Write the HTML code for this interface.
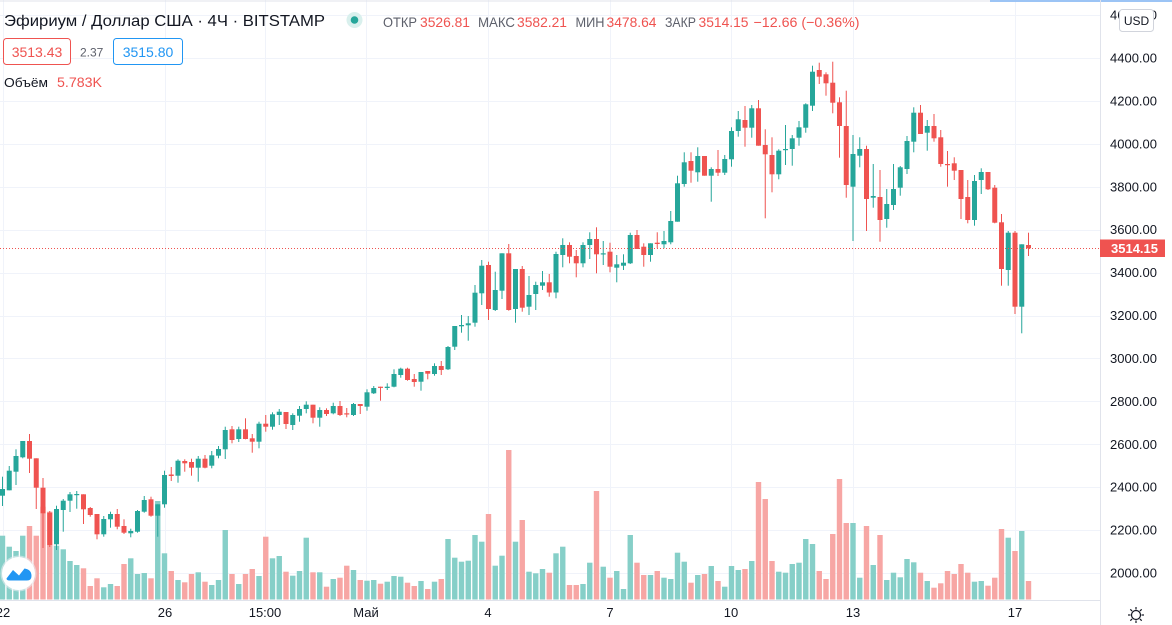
<!DOCTYPE html>
<html><head><meta charset="utf-8">
<style>
html,body{margin:0;padding:0;background:#fff;width:1172px;height:625px;overflow:hidden}
svg{display:block;font-family:"Liberation Sans","DejaVu Sans",sans-serif}
</style></head><body>
<svg id="s" width="1172" height="625" viewBox="0 0 1172 625" xmlns="http://www.w3.org/2000/svg">
<rect x="0" y="0" width="1172" height="625" fill="#ffffff"/>
<g id="grid" stroke="#f0f3fa" stroke-width="1"></g>
<g id="vol"></g>
<g id="cnd"></g>
<!-- price line -->
<line x1="0" y1="248.5" x2="1100" y2="248.5" stroke="#ef5350" stroke-width="1" stroke-dasharray="1,2"/>
<!-- borders -->
<line x1="0" y1="1" x2="990" y2="1" stroke="#e0e3eb" stroke-width="1"/>
<line x1="990" y1="1" x2="1172" y2="1" stroke="#9cc4f5" stroke-width="2"/>
<line x1="1100.5" y1="0" x2="1100.5" y2="625" stroke="#e0e3eb" stroke-width="1"/>
<line x1="0" y1="600.5" x2="1100" y2="600.5" stroke="#e0e3eb" stroke-width="1"/>

<!-- price axis labels -->
<g font-size="13" fill="#131722">
<text x="1110" y="19.5">4600.00</text>
<text x="1110" y="62.5">4400.00</text>
<text x="1110" y="105.5">4200.00</text>
<text x="1110" y="148.5">4000.00</text>
<text x="1110" y="191.5">3800.00</text>
<text x="1110" y="234">3600.00</text>
<text x="1110" y="277">3400.00</text>
<text x="1110" y="320">3200.00</text>
<text x="1110" y="363">3000.00</text>
<text x="1110" y="406">2800.00</text>
<text x="1110" y="449">2600.00</text>
<text x="1110" y="491.5">2400.00</text>
<text x="1110" y="534.5">2200.00</text>
<text x="1110" y="577.5">2000.00</text>
</g>
<!-- USD box -->
<rect x="1119.5" y="9.5" width="34" height="22" rx="3" fill="#fff" stroke="#d1d4dc"/>
<text x="1136.5" y="25" font-size="12" fill="#131722" text-anchor="middle">USD</text>
<!-- last price label -->
<rect x="1100" y="239.5" width="65" height="17.5" fill="#ef5350"/>
<text x="1111" y="253" font-size="13" font-weight="bold" fill="#ffffff">3514.15</text>

<!-- time axis -->
<g font-size="13" fill="#131722" text-anchor="middle">
<text x="3" y="617">22</text>
<text x="165" y="617">26</text>
<text x="265" y="617">15:00</text>
<text x="366" y="617">Май</text>
<text x="488" y="617">4</text>
<text x="610" y="617">7</text>
<text x="731" y="617">10</text>
<text x="853" y="617">13</text>
<text x="1015" y="617">17</text>
</g>
<!-- gear -->
<g transform="translate(1136,615)" stroke="#131722" stroke-width="1.2" fill="none">
<circle cx="0" cy="0" r="4.5"/>
<line x1="0" y1="-8" x2="0" y2="-5.5"/><line x1="0" y1="5.5" x2="0" y2="8"/>
<line x1="-8" y1="0" x2="-5.5" y2="0"/><line x1="5.5" y1="0" x2="8" y2="0"/>
<line x1="-5.7" y1="-5.7" x2="-3.9" y2="-3.9"/><line x1="3.9" y1="3.9" x2="5.7" y2="5.7"/>
<line x1="-5.7" y1="5.7" x2="-3.9" y2="3.9"/><line x1="3.9" y1="-3.9" x2="5.7" y2="-5.7"/>
</g>

<!-- header -->
<text x="4" y="26" font-size="16" fill="#131722" textLength="321" lengthAdjust="spacingAndGlyphs">Эфириум / Доллар США · 4Ч · BITSTAMP</text>
<circle cx="354.5" cy="20" r="8" fill="#d9f0ed"/>
<circle cx="354.5" cy="20" r="3.8" fill="#26a69a"/>
<g font-size="14">
<text x="383" y="27" fill="#5d606b" textLength="34" lengthAdjust="spacingAndGlyphs">ОТКР</text>
<text x="420" y="27" fill="#ef5350" textLength="50" lengthAdjust="spacingAndGlyphs">3526.81</text>
<text x="478" y="27" fill="#5d606b" textLength="37" lengthAdjust="spacingAndGlyphs">МАКС</text>
<text x="517" y="27" fill="#ef5350" textLength="50" lengthAdjust="spacingAndGlyphs">3582.21</text>
<text x="575.5" y="27" fill="#5d606b" textLength="29" lengthAdjust="spacingAndGlyphs">МИН</text>
<text x="606.5" y="27" fill="#ef5350" textLength="50" lengthAdjust="spacingAndGlyphs">3478.64</text>
<text x="665" y="27" fill="#5d606b" textLength="31" lengthAdjust="spacingAndGlyphs">ЗАКР</text>
<text x="698.5" y="27" fill="#ef5350" textLength="50" lengthAdjust="spacingAndGlyphs">3514.15</text>
<text x="753.5" y="27" fill="#ef5350" textLength="106" lengthAdjust="spacingAndGlyphs">−12.66 (−0.36%)</text>
</g>
<rect x="3.5" y="38.5" width="67" height="26" rx="3" fill="#fff" stroke="#ef5350"/>
<text x="37" y="57" font-size="14" fill="#ef5350" text-anchor="middle">3513.43</text>
<text x="80" y="56.5" font-size="12" fill="#5d606b">2.37</text>
<rect x="113.5" y="38.5" width="69" height="26" rx="3" fill="#fff" stroke="#2196f3"/>
<text x="148" y="57" font-size="14" fill="#2196f3" text-anchor="middle">3515.80</text>
<text x="4" y="87" font-size="13" fill="#131722" textLength="44" lengthAdjust="spacingAndGlyphs">Объём</text>
<text x="57" y="87" font-size="14" fill="#ef5350" textLength="45" lengthAdjust="spacingAndGlyphs">5.783K</text>

<!-- logo -->
<circle cx="18.5" cy="573.5" r="18" fill="#e9ecf2" opacity="0.6"/>
<circle cx="18.5" cy="573.5" r="16.5" fill="#ffffff"/>
<path d="M6.5,578.5 L13,570 L19,575.5 L24.5,568.5 Q31.5,569.5 31.5,576 Q31.5,580.5 27,580.5 L9.5,580.5 Q6.5,580.5 6.5,578.5 Z" fill="#2196f3"/>
<path d="M6,576 L13,567.5 L19,573 L24.5,566.5" fill="none" stroke="#ffffff" stroke-width="1.6"/>
</svg>
<script>
(function(){
var NS="http://www.w3.org/2000/svg";
function el(p,n,a){var e=document.createElementNS(NS,n);for(var k in a)e.setAttribute(k,a[k]);p.appendChild(e);return e;}
var grid=document.getElementById("grid");
var ys=[15.1,58,101,144,186.8,229.7,272.6,315.5,358.4,401.3,444.3,487.2,530,573];
ys.forEach(function(y){var yy=Math.round(y)+0.5;el(grid,"line",{x1:0,y1:yy,x2:1100,y2:yy});});
[3,165,265,366,488,610,731,853,1015].forEach(function(x){var xx=Math.round(x)+0.5;el(grid,"line",{x1:xx,y1:0,x2:xx,y2:600});});
var D="g,489,495.7,476.7,506,535.7;g,470.7,490.3,466,490.3,546.7;g,456,471.7,449.3,485,551;g,441,457.3,441,458.3,535.7;r,441,458.7,434,473,526;r,458.3,487.7,458.3,509,535.7;r,487.7,513.3,478,548,506.7;r,512.7,545,511,547,511.7;g,509,544.3,505.7,550,545.7;g,500.7,510,499,531.7,549.3;"+
"g,494.3,500.7,492,512,561;g,494,495,491,508.7,565;r,494.3,509.3,494.3,524,568.3;r,508,515,507,516.7,586;r,514,534.3,514,539.3,578.3;g,519,534.3,516,536.7,587.3;g,514,519.3,511.7,527.7,584;r,514,526.7,509,529.3,586;r,526,532.7,519.3,534,564;g,531,533.3,528.7,537.3,558.3;"+
"g,511,531.7,510,532.7,574;g,500,511.7,496,512.7,573;r,499.3,515.7,496.7,516.7,578.3;g,504.3,515.7,504.3,536.7,501;g,475,504.3,470.7,507.7,553.3;r,474.5,476,467,481,571;g,460.7,475.7,459.3,482.7,580;r,461,463.3,459.3,471.7,582.3;r,462,467.7,458.7,475.7,574;g,458.7,467.7,456,481.7,572.3;"+
"r,458.7,467.7,455,468.3,581.7;g,455.3,465.7,451,468.3,585;g,449,455.7,446,458.3,580;g,430,449.3,426.7,459,530;r,429.3,440,426,443.3,574;g,429.3,439,426.7,442,584;r,429.3,439,418.3,439.3,574;r,438.3,441.7,434,452.7,569;g,423.7,441.7,421.7,448.3,576;r,423.7,426.7,415,431.7,536.7;"+
"g,414.3,426.7,412.3,429.7,558.3;g,411.7,415,409,425,556;r,412,424,412,429,571.7;g,415,425,413.3,430,575.7;g,409,415.7,406,421.7,571;g,404.7,409,401.3,413.3,537.7;r,404.7,417.7,404.7,423.3,572.3;g,410,417.7,407.3,426.7,572.3;r,410,414,408.3,416,586.7;g,406,413.3,402.7,414.3,579;"+
"r,406,415,401,416,577.7;r,413.3,414.3,408,417.3,565.7;g,404,415,403,416,570;r,404,406,404,414,580;g,392.3,406.7,389.3,410.7,580.7;g,388,393.3,386,394,580;r,386.7,387.7,386.7,400.7,583.7;g,386.7,388,383.3,390,581.7;g,374,386.7,369.3,387.3,576;g,368.7,375,367.7,377.7,576.7;"+
"r,368.7,380,367.7,380.7,582.7;r,379,382,374,386.7,586;g,372,381.7,372,390.7,581;r,371,373.7,371,379.3,589;g,366,374,363.3,375.7,581.7;r,366,370,361,375,579;g,347,369.3,346,370,539;g,326,346.7,326,350,557.7;g,325,326.3,315,332.7,561.7;g,323.3,325.3,316,340.7,560.7;"+
"g,292.7,322.7,285,326.7,535;g,265.7,293.3,260,305,541.7;r,265,309,261.7,320,514;g,290,310,271.7,311,565.7;g,253.3,290.7,253.3,299,555.7;r,253.3,310,244,310.7,450;g,269,309,269,322.7,541.7;r,269,307.7,266,311.7,520;g,295,306.7,276,315,571.7;g,285,294,281.7,310,573.3;"+
"g,282.3,285.7,271,290,569;r,282.3,292.5,274,296.7,572.7;g,254,292.5,251.7,298.3,553.3;g,245,255,238.3,267.3,546.7;r,245,256.7,242.3,263.3,585;r,256,263.3,250,277.3,585;g,245,263.3,242.3,267.3,584;g,239,245,232.3,259,562.7;r,239,254.3,227.3,273.3,491;g,253.3,254.3,241,265,566.7;"+
"r,251.7,266.7,242.7,272.3,577.7;g,264.3,267.7,255,282.3,571;g,262.7,265.7,254.3,270,589;g,235,263.3,232.7,264,535;r,235,249,230,249,562.7;r,246.7,255,243.3,266.7,575;g,243.3,255,243.3,261.7,575;r,242.7,244,232.3,248.3,571;g,241,244.3,231,248.3,577.7;g,221,242.3,211,244.3,579;"+
"g,183.3,221.7,175.7,221.7,552.7;g,162.3,184,152.3,186.7,561.7;r,161,170.7,152.3,182.7,582.7;g,156,172.3,147.3,181.7,575;r,156,175.7,156,175.7,574;g,169,175.7,167.3,201.7,566;r,169,172.7,150,176,581;g,159,172.7,155,175,586.7;g,131,159.3,127.3,166.7,566;g,119.3,131,111,136.7,570;"+
"r,120,127.7,106,146.7,569;g,108.3,127.7,105,137.7,561;r,108.3,145.7,100,145.7,482;r,145,154.3,129.3,218.3,499;r,155,174.3,137.3,192.3,561;g,150.7,174.3,149.3,179.3,571.7;g,149,150,125,165,572.7;g,138.3,149,135,165.7,564;g,127.3,137.7,121,145.7,562.7;g,104.3,127.7,103.3,132.7,539;"+
"g,71.7,105.7,65.7,111,544;r,70,76.7,62.7,84,571;r,74.3,83.3,72.3,95.7,579;r,82.7,102.7,61.7,113.3,534;r,102.3,126,97.3,157.7,479;r,126,185,90.7,197.7,523;g,154,186.7,135,241,523;g,149,155.7,137.3,167.3,577.7;r,149,199,145.7,231,526;g,196,197.7,164,207.7,565;"+
"r,197,220,170,241.7,535;g,204,219,189,227.7,580;g,189,205,164,210,572.7;g,167.3,187.7,166,195.7,577.3;g,141,169,136,174,559;g,112.7,141.7,107.3,152.3,562.3;r,112.7,134,105,134,572.7;g,126,132.7,120,150.7,581;r,126,138.3,114,141.7,587.7;r,137.3,164,130,166.7,583.3;"+
"r,164,165,151,186.7,571;r,163.3,170.7,157.3,180,574;r,170,199,170,219,564;r,197,220,180,223.3,572.7;g,181,220,175,225.7,581.7;g,172,180,168.3,194,581;r,172,189.3,172,190,585.7;r,187.7,222.7,185,223.3,577.7;r,222.3,269,214,285.7,529;g,232.7,270,231,285.7,537.7;"+
"r,232.7,306.7,231,314,551;g,244.3,306.7,244.3,333.3,531;r,245,248.3,232.7,256,581";
var vol=document.getElementById("vol"),cnd=document.getElementById("cnd");
D.split(";").forEach(function(s,i){
  var a=s.split(","),c=a[0],bt=+a[1],bb=+a[2],wt=+a[3],wb=+a[4],vt=+a[5];
  var x=2.5+i*6.75;
  var col=c=="g"?"#26a69a":"#ef5350";
  var vcol=c=="g"?"#86cfc8":"#f7a6a4";
  el(vol,"rect",{x:(x-2.7).toFixed(2),y:vt,width:5.4,height:(599.5-vt).toFixed(2),fill:vcol});
  el(cnd,"rect",{x:(x-0.5).toFixed(2),y:wt,width:1,height:(wb-wt).toFixed(2),fill:col});
  el(cnd,"rect",{x:(x-2.5).toFixed(2),y:bt,width:5,height:Math.max(bb-bt,1.2).toFixed(2),fill:col});
});
})();
</script>
</body></html>
